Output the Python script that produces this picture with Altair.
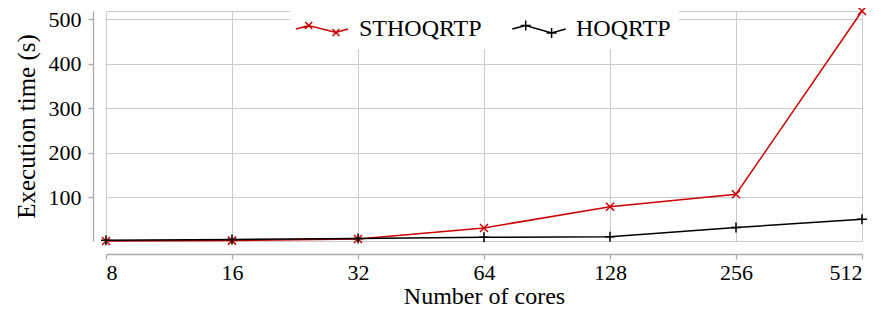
import altair as alt
import pandas as pd

cores = [8, 16, 32, 64, 128, 256, 512]
sthoqrtp = [1.6, 2.5, 6, 31, 78.5, 106.5, 518]
hoqrtp = [3.5, 5, 7, 10, 10.9, 32, 50.5]
series_names = ["STHOQRTP", "HOQRTP"]
series_colors = ["#cc0000", "#000000"]
y_ticks = [100, 200, 300, 400, 500]

rows = []
for name, vals in zip(series_names, [sthoqrtp, hoqrtp]):
    for c, v in zip(cores, vals):
        rows.append({"cores": c, "time": v, "series": name})
df = pd.DataFrame(rows)

FONT = "Liberation Serif"
GRID = "#cccccc"
AXC = "#aaaaaa"

x_enc = alt.X(
    "cores:Q",
    scale=alt.Scale(type="log", base=2, domain=[8, 512], nice=False),
    axis=alt.Axis(values=cores, format="d", offset=13, title="Number of cores",
                  grid=True, gridColor=GRID, gridWidth=1,
                  domainColor=AXC, domainWidth=1.3, tickColor=AXC, tickWidth=1.3, tickSize=5,
                  labelFont=FONT, labelFontSize=22, labelColor="black", labelPadding=3,
                  titleFont=FONT, titleFontSize=24, titleFontWeight="normal", titleColor="black",
                  titlePadding=1),
)
y_enc = alt.Y(
    "time:Q",
    scale=alt.Scale(domain=[1.6, 518], nice=False, zero=False),
    axis=alt.Axis(values=y_ticks, offset=13, title="Execution time (s)",
                  grid=True, gridColor=GRID, gridWidth=1,
                  domainColor=AXC, domainWidth=1.3, tickColor=AXC, tickWidth=1.3, tickSize=5,
                  labelFont=FONT, labelFontSize=22, labelColor="black", labelPadding=7,
                  titleFont=FONT, titleFontSize=25, titleFontWeight="normal", titleColor="black",
                  titlePadding=9),
)

color_scale = alt.Scale(domain=series_names, range=series_colors)
marker_shapes = ["M-1,-1L1,1M-1,1L1,-1", "M-1,0L1,0M0,-1L0,1"]
legend_shapes = [
    "M-2.6,0L-1.33,-0.35L1.4,0.35L2.6,0M-1.68,-0.7L-0.98,0M-1.68,0L-0.98,-0.7M1.05,0L1.75,0.7M1.05,0.7L1.75,0",
    "M-2.67,0L-1.33,-0.35L1.26,0.4L2.67,0M-1.83,-0.35L-0.83,-0.35M-1.33,-0.85L-1.33,0.15M0.76,0.4L1.76,0.4M1.26,-0.1L1.26,0.9",
]

base = alt.Chart(df)

lines = base.mark_line(strokeWidth=1.5).encode(
    x=x_enc, y=y_enc,
    color=alt.Color("series:N", scale=color_scale, legend=None),
    detail="series:N",
)

points = base.mark_point(filled=False, strokeWidth=1.5, opacity=1).encode(
    x=x_enc, y=y_enc,
    color=alt.Color("series:N", scale=color_scale, legend=None),
    shape=alt.Shape("series:N", scale=alt.Scale(domain=series_names, range=marker_shapes), legend=None),
    size=alt.Size("series:N", scale=alt.Scale(domain=series_names, range=[64, 100]), legend=None),
)

legend = alt.Legend(
    title=None, orient="none", legendX=184, legendY=-1, direction="horizontal", columns=2,
    fillColor="white", strokeColor="white", padding=7,
    symbolSize=400, symbolStrokeWidth=1.5, symbolOffset=13, symbolFillColor="transparent",
    labelOffset=25, columnPadding=27, labelFont=FONT, labelFontSize=24, labelColor="black",
    labelLimit=300, symbolOpacity=1,
)

legend_layer = base.mark_point(filled=False, size=0).encode(
    x=x_enc, y=y_enc,
    color=alt.Color("series:N", scale=color_scale, legend=legend, sort=series_names),
    shape=alt.Shape("series:N", scale=alt.Scale(domain=series_names, range=legend_shapes),
                    legend=legend, sort=series_names),
)

chart = alt.layer(lines, points, legend_layer).resolve_scale(
    color="independent", shape="independent", size="independent"
).properties(
    width=756, height=230,
    autosize=alt.AutoSizeParams(type="none"),
    padding={"left": 98, "top": 3, "right": 10, "bottom": 70},
).configure_view(stroke=GRID, strokeWidth=1)

chart.save("out.html", embed_options={"renderer": "svg", "actions": False})
